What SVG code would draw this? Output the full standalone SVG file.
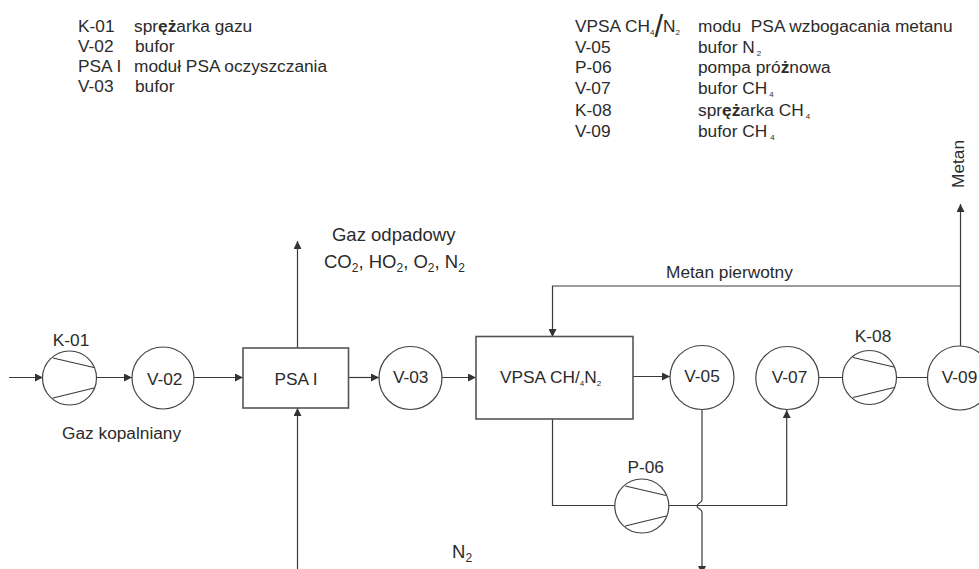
<svg xmlns="http://www.w3.org/2000/svg" width="979" height="569" viewBox="0 0 979 569">
<style>
text{font-family:"Liberation Sans",Arial,sans-serif;font-size:17.300px;fill:#2b2b2b;white-space:pre}
.s{font-size:8px}
.u{font-size:18.500px}
.t{font-size:12px}
.n{fill:#fff;stroke:#444;stroke-width:1.2}
.b{fill:#fff;stroke:#555;stroke-width:1.6}
.c{fill:none;stroke:#3a3a3a;stroke-width:1.2}
.bb{font-weight:bold}
.m{text-anchor:middle}
</style>
<defs>
<marker id="a" markerUnits="userSpaceOnUse" markerWidth="9" markerHeight="8" refX="8" refY="4" orient="auto"><path d="M0 0L8 4L0 8Z" fill="#333"/></marker>
<g id="comp"><circle class="n" r="27"/><path class="c" d="M-16.500 -20L24.500 -10.500M-16.500 20L24.500 10"/></g>
</defs>
<rect width="979" height="569" fill="#fff"/>
<g id="connectors">
<path class="c" marker-end="url(#a)" d="M9 377.500H43"/>
<path class="c" marker-end="url(#a)" d="M97 377.500H132"/>
<path class="c" marker-end="url(#a)" d="M194 377.500H243"/>
<path class="c" marker-end="url(#a)" d="M349 377.500H379"/>
<path class="c" marker-end="url(#a)" d="M442 377.500H476"/>
<path class="c" marker-end="url(#a)" d="M633 376.500H670"/>
<path class="c" marker-end="url(#a)" d="M297.500 348V241"/>
<path class="c" marker-end="url(#a)" d="M297.500 569V408"/>
<path class="c" marker-end="url(#a)" d="M960.500 346V204"/>
<path class="c" marker-end="url(#a)" d="M960.500 286H552.500V337"/>
<path class="c" d="M552.500 419V505.500H615"/>
<path class="c" marker-end="url(#a)" d="M668.500 505.500H786.700V410"/>
<path class="c" marker-end="url(#a)" d="M702 410V500C702 503 697 503 697 506C697 509 702 509 702 512V574"/>
<path class="c" d="M819 377.500H842.500M896.500 377.500H928"/>
</g>
<g id="k01"><use href="#comp" x="69.500" y="378"/><text class="m" x="71" y="346">K-01</text></g>
<g id="v02"><circle class="n" cx="163" cy="378" r="31"/><text class="m" x="164.700" y="385">V-02</text></g>
<g id="psa1"><rect class="b" x="243" y="348" width="105.500" height="60"/><text class="m" x="296" y="385">PSA I</text></g>
<g id="v03"><circle class="n" cx="410.500" cy="378" r="31.500"/><text class="m" x="410.700" y="383">V-03</text></g>
<g id="vpsa"><rect class="b" x="476" y="336.500" width="157" height="82.500"/><text x="500" y="383">VPSA CH/<tspan class="s" dy="3">4</tspan><tspan dy="-3">N</tspan><tspan class="s" dy="3">2</tspan></text></g>
<g id="v05"><circle class="n" cx="702" cy="377.500" r="32"/><text class="m" x="702" y="382">V-05</text></g>
<g id="p06"><use href="#comp" x="641.800" y="506"/><text class="m" x="645.700" y="472.500">P-06</text></g>
<g id="v07"><circle class="n" cx="787.300" cy="378" r="31.500"/><text class="m" x="789.500" y="383">V-07</text></g>
<g id="k08"><use href="#comp" x="869.500" y="377.500"/><text class="m" x="873" y="342">K-08</text></g>
<g id="v09"><circle class="n" cx="959.500" cy="378" r="32"/><text class="m" x="959.500" y="383">V-09</text></g>
<g id="labels">
<text x="78" y="32">K-01</text><text x="134" y="32">spr<tspan class="bb">ęż</tspan>arka gazu</text>
<text x="78" y="52">V-02</text><text x="135" y="52">bufor</text>
<text x="78" y="71.500">PSA I</text><text x="134" y="71.500">moduł PSA oczyszczania</text>
<text x="78" y="91.500">V-03</text><text x="135" y="91.500">bufor</text>
<text x="575" y="31.500">VPSA CH<tspan class="s" dy="3">4</tspan><tspan dy="2" style="font-size:31px">/</tspan><tspan dy="-5">N</tspan><tspan class="s" dy="3">2</tspan></text>
<text x="698" y="31.500">modu  PSA wzbogacania metanu</text>
<text x="575" y="52.500">V-05</text><text x="698" y="52.500">bufor N<tspan class="s" dx="2" dy="3">2</tspan></text>
<text x="575" y="73">P-06</text><text x="698" y="73">pompa pró<tspan class="bb">ż</tspan>nowa</text>
<text x="575" y="94">V-07</text><text x="698" y="94">bufor CH<tspan class="s" dx="2" dy="3">4</tspan></text>
<text x="575" y="116">K-08</text><text x="698" y="116">spr<tspan class="bb">ęż</tspan>arka CH<tspan class="s" dx="2" dy="3">4</tspan></text>
<text x="575" y="137">V-09</text><text x="698" y="137">bufor CH<tspan class="s" dx="3" dy="3">4</tspan></text>
<text transform="translate(964 188) rotate(-90)">Metan</text>
<text x="62" y="439">Gaz kopalniany</text>
<text class="m u" x="393.700" y="241">Gaz odpadowy</text>
<text class="u" x="324" y="268">CO<tspan dy="4" class="t">2</tspan><tspan dy="-4">, HO</tspan><tspan dy="4" class="t">2</tspan><tspan dy="-4">, O</tspan><tspan dy="4" class="t">2</tspan><tspan dy="-4">, N</tspan><tspan dy="4" class="t">2</tspan></text>
<text x="666" y="278">Metan pierwotny</text>
<text class="u" x="452" y="558">N<tspan dy="4" class="t">2</tspan></text>
</g>
</svg>
